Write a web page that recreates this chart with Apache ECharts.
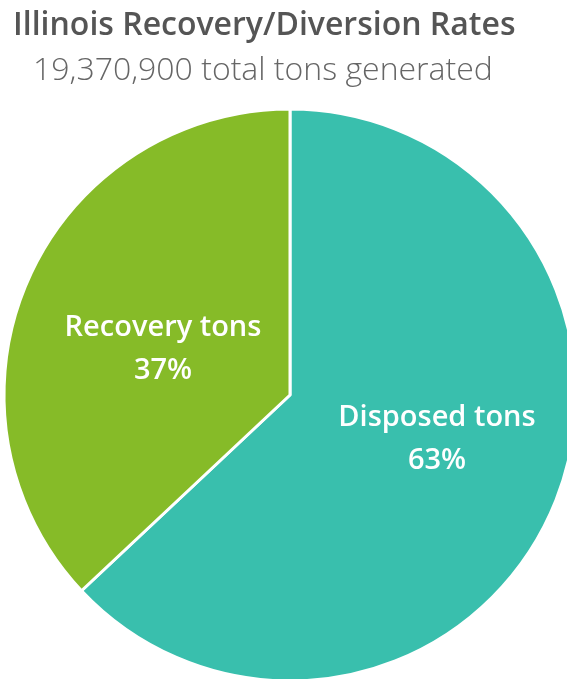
<!DOCTYPE html>
<html><head><meta charset="utf-8">
<script src="https://cdn.jsdelivr.net/npm/echarts@6/dist/echarts.min.js"></script>
<style>html,body{margin:0;padding:0;background:#fff}#c{width:567px;height:679px}</style>
</head><body><div id="c"></div>
<script>
const titleText = "Illinois Recovery/Diversion Rates";
const subtitleText = "19,370,900 total tons generated";
const categories = ["Disposed tons", "Recovery tons"];
const values = [63, 37];
const colors = ["#39BFAD", "#86BB28"];

const labelOffsets = [[13, -14], [7, 12]];

const chart = echarts.init(document.getElementById('c'));
chart.setOption({
  animation: false,
  title: [{
    text: titleText,
    left: 8, top: 5,
    textStyle: {fontFamily: "Open Sans", fontWeight: 600, fontSize: 32, color: "#555555"}
  }, {
    text: subtitleText,
    left: 28, top: 50,
    textStyle: {fontFamily: "Open Sans", fontWeight: 300, fontSize: 32, color: "#666666"}
  }],
  series: [{
    type: 'pie',
    center: [290, 395],
    radius: [0, 286],
    startAngle: 90,
    clockwise: true,
    data: categories.map((c, i) => ({name: c, value: values[i], itemStyle: {color: colors[i]}, label: {offset: labelOffsets[i]}})),
    itemStyle: {borderColor: '#fff', borderWidth: 3},
    label: {
      position: 'inner',
      formatter: '{b}\n{d}%',
      color: '#fff',
      fontFamily: 'Open Sans',
      fontWeight: 600,
      fontSize: 29,
      lineHeight: 43
    },
    labelLine: {show: false},
    emphasis: {disabled: true}
  }]
});
</script></body></html>
